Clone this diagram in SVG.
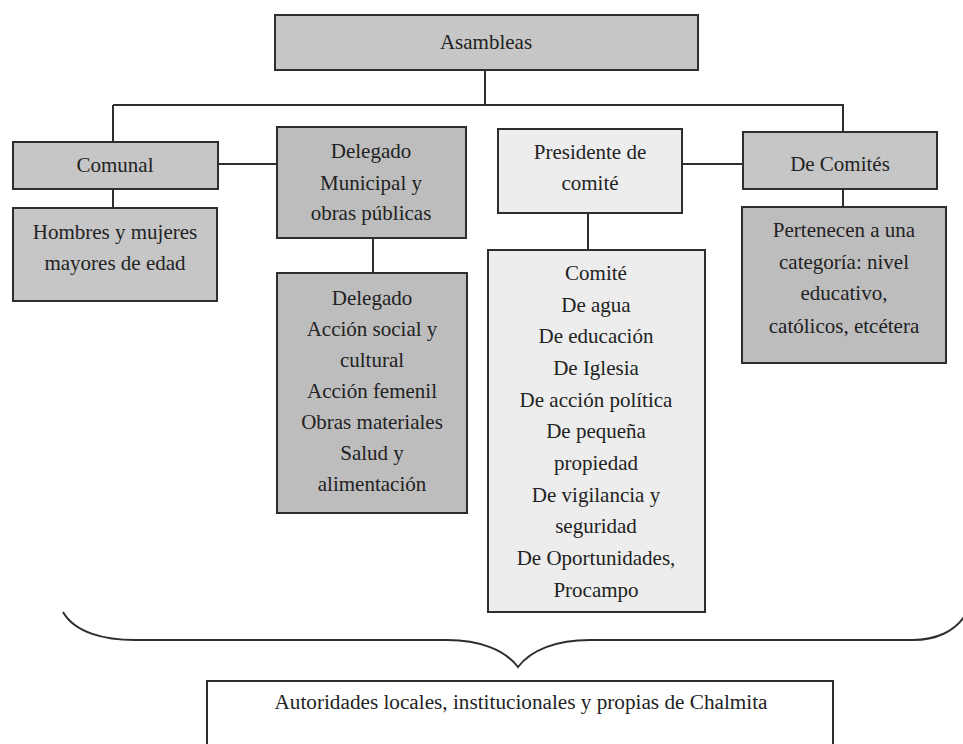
<svg xmlns="http://www.w3.org/2000/svg" width="963" height="744" viewBox="0 0 963 744">
<style>
.box{stroke:#2e2e2e;stroke-width:2}
.dark{fill:#c6c6c6}
.darker{fill:#bdbdbd}
.light{fill:#ededed}
.plain{fill:#ffffff}
.t{font-family:"Liberation Serif","Times New Roman",serif;font-size:21px;fill:#222;text-anchor:middle}
.conn{stroke:#2e2e2e;stroke-width:2;fill:none}
</style>
<rect width="963" height="744" fill="#ffffff"/>
<g id="connectors">
<path class="conn" d="M485,70 V105"/>
<path class="conn" d="M113,105 H844"/>
<path class="conn" d="M113,105 V142"/>
<path class="conn" d="M843,105 V132"/>
<path class="conn" d="M113,189 V208"/>
<path class="conn" d="M218,164 H277"/>
<path class="conn" d="M373,238 V273"/>
<path class="conn" d="M682,164 H743"/>
<path class="conn" d="M588,213 V250"/>
<path class="conn" d="M843,189 V207"/>
<path class="conn" d="M63,612 C75,633 105,640 135,640 L447,640 C480,640 505,650 518,667 C531,650 556,640 590,640 L913,640 C935,640 955,632 966,614"/>
</g>
<g id="asambleas">
<rect class="box dark" x="275" y="15" width="423" height="55"/>
<text class="t" x="486" y="49">Asambleas</text>
</g>
<g id="comunal">
<rect class="box dark" x="13" y="142" width="205" height="47"/>
<text class="t" x="115" y="172">Comunal</text>
</g>
<g id="hombres">
<rect class="box dark" x="13" y="208" width="204" height="93"/>
<text class="t" x="115" y="239">Hombres y mujeres</text>
<text class="t" x="115" y="270">mayores de edad</text>
</g>
<g id="delegado-municipal">
<rect class="box darker" x="277" y="127" width="189" height="111"/>
<text class="t" x="371" y="158">Delegado</text>
<text class="t" x="371" y="190">Municipal y</text>
<text class="t" x="371" y="220">obras públicas</text>
</g>
<g id="delegado-accion">
<rect class="box darker" x="277" y="273" width="190" height="240"/>
<text class="t" x="372" y="305">Delegado</text>
<text class="t" x="372" y="336">Acción social y</text>
<text class="t" x="372" y="367">cultural</text>
<text class="t" x="372" y="398">Acción femenil</text>
<text class="t" x="372" y="429">Obras materiales</text>
<text class="t" x="372" y="460">Salud y</text>
<text class="t" x="372" y="491">alimentación</text>
</g>
<g id="presidente">
<rect class="box light" x="498" y="129" width="184" height="84"/>
<text class="t" x="590" y="159">Presidente de</text>
<text class="t" x="590" y="190">comité</text>
</g>
<g id="comite">
<rect class="box light" x="488" y="250" width="217" height="362"/>
<text class="t" x="596" y="280">Comité</text>
<text class="t" x="596" y="312">De agua</text>
<text class="t" x="596" y="343">De educación</text>
<text class="t" x="596" y="375">De Iglesia</text>
<text class="t" x="596" y="407">De acción política</text>
<text class="t" x="596" y="438">De pequeña</text>
<text class="t" x="596" y="470">propiedad</text>
<text class="t" x="596" y="502">De vigilancia y</text>
<text class="t" x="596" y="533">seguridad</text>
<text class="t" x="596" y="565">De Oportunidades,</text>
<text class="t" x="596" y="597">Procampo</text>
</g>
<g id="de-comites">
<rect class="box dark" x="743" y="132" width="194" height="57"/>
<text class="t" x="840" y="171">De Comités</text>
</g>
<g id="pertenecen">
<rect class="box darker" x="742" y="207" width="204" height="156"/>
<text class="t" x="844" y="237">Pertenecen a una</text>
<text class="t" x="844" y="269">categoría: nivel</text>
<text class="t" x="844" y="300">educativo,</text>
<text class="t" x="844" y="333">católicos, etcétera</text>
</g>
<g id="autoridades">
<rect class="box plain" x="207" y="681" width="626" height="80"/>
<text class="t" x="521" y="709" style="font-size:20px" textLength="493" lengthAdjust="spacingAndGlyphs">Autoridades locales, institucionales y propias de Chalmita</text>
</g>
</svg>
